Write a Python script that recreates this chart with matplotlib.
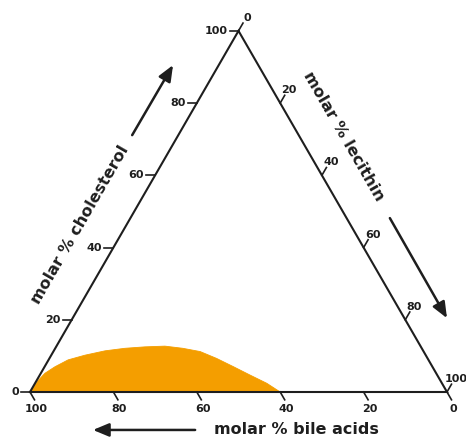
import numpy as np
import matplotlib
matplotlib.use("Agg")
import matplotlib.pyplot as plt

# ---- data (molar %) : boundary of the orange region ----
bile_acids = [100, 96.3, 93.8, 90.5, 86.4, 81.7, 76.3, 71.2, 66.2, 61.3, 57.3,
              53.6, 50.6, 47.7, 44.9, 42.0, 40]
lecithin = [0, 0.4, 1.0, 2.5, 4.7, 8.1, 12.3, 16.7, 21.3, 26.0, 30.6,
            35.2, 40.1, 45.3, 50.4, 55.6, 60]
cholesterol = [0, 3.3, 5.2, 7.0, 8.9, 10.2, 11.4, 12.1, 12.5, 12.7, 12.1,
               11.2, 9.3, 7.0, 4.7, 2.4, 0]
tick_values = [0, 20, 40, 60, 80, 100]

INK = "#1e1e1e"
FILL = "#F49E00"
SQ3 = np.sqrt(3) / 2


def tern(b, l, c):
    b, l, c = (np.asarray(v, float) for v in (b, l, c))
    tot = b + l + c
    x = (l + c / 2.0) / tot
    y = c * SQ3 / tot
    return x, y


fig = plt.figure(figsize=(4.66, 4.38), dpi=100)
ax = fig.add_axes([0, 0, 1, 1])
S = 417.0
ax.set_xlim(-30 / S, 436 / S)
ax.set_ylim(-46 / S, 392 / S)
ax.axis("off")

# region
xf, yf = tern(bile_acids, lecithin, cholesterol)
ax.fill(xf, yf, color=FILL, lw=0.6, ec=FILL, zorder=1, joinstyle="round")

# triangle edges
vx, vy = tern([100, 0, 0, 100], [0, 100, 0, 0], [0, 0, 100, 0])
ax.plot(vx, vy, color=INK, lw=1.5, zorder=3, solid_joinstyle="miter")

TL = 9 / S
fs_tick = 8
tkw = dict(color=INK, fontsize=fs_tick, fontweight="bold", textcoords="offset pixels")

# cholesterol ticks (left edge)
for v in tick_values:
    x, y = tern(100 - v, 0, v)
    ax.plot([x, x - TL], [y, y], color=INK, lw=1.2, zorder=3)
    ax.annotate(str(v), (x, y), xytext=(-11, 0), ha="right", va="center", **tkw)

# bile acids ticks (bottom edge)
for v in tick_values:
    x, y = tern(v, 100 - v, 0)
    ax.plot([x, x + TL * 0.5], [y, y - TL * SQ3], color=INK, lw=1.2, zorder=3)
    ax.annotate(str(v), (x, y), xytext=(6, -17), ha="center", va="center", **tkw)

# lecithin ticks (right edge)
for v in tick_values:
    x, y = tern(0, v, 100 - v)
    ax.plot([x, x + TL * 0.5], [y, y + TL * SQ3], color=INK, lw=1.2, zorder=3)
    ax.annotate(str(v), (x, y), xytext=(9, 13), ha="center", va="center", **tkw)

# axis titles
tfs = 11.5
ax.text(0.120, 0.400, "molar % cholesterol", rotation=60, rotation_mode="anchor",
        ha="center", va="center", fontsize=tfs, fontweight="bold", color=INK)
ax.text(0.751, 0.614, "molar % lecithin", rotation=-60, rotation_mode="anchor",
        ha="center", va="center", fontsize=tfs, fontweight="bold", color=INK)
ax.text(0.638, -0.091, "molar % bile acids", ha="center", va="center",
        fontsize=tfs, fontweight="bold", color=INK)

# direction arrows
ap = dict(arrowstyle="-|>,head_length=0.6,head_width=0.25", color=INK, lw=1.8,
          mutation_scale=16, shrinkA=0, shrinkB=0)
ax.annotate("", xy=(0.343, 0.784), xytext=(0.245, 0.616), arrowprops=ap)
ax.annotate("", xy=(1.0, 0.177), xytext=(0.863, 0.417), arrowprops=ap)
ax.annotate("", xy=(0.151, -0.091), xytext=(0.396, -0.091), arrowprops=ap)

fig.savefig("out.png", dpi=100)
